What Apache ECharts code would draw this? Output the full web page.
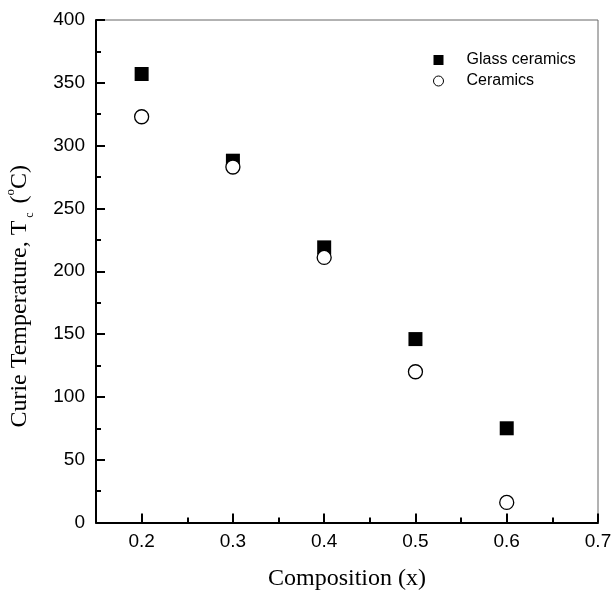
<!DOCTYPE html>
<html>
<head>
<meta charset="utf-8">
<script src="https://cdn.jsdelivr.net/npm/echarts@6/dist/echarts.min.js"></script>
<style>html,body{margin:0;padding:0;background:#fff;}#c{width:613px;height:591px;}</style>
</head>
<body>
<div id="c"></div>
<script>
const composition = [0.2, 0.3, 0.4, 0.5, 0.6];
const glassCeramics = [357, 288, 219, 146, 75];
const ceramics = [323, 283, 211, 120, 16];
const seriesNames = ['Glass ceramics', 'Ceramics'];
const xMajorTicks = [0.2, 0.3, 0.4, 0.5, 0.6, 0.7];
const xMinorTicks = [0.25, 0.35, 0.45, 0.55, 0.65];

const chart = echarts.init(document.getElementById('c'), null, {renderer: 'canvas'});
const sans = 'Liberation Sans, Arial, sans-serif';
const serif = 'Liberation Serif, Times New Roman, serif';

chart.setOption({
  animation: false,
  backgroundColor: '#fff',
  grid: {left: 96, right: 15, top: 20, bottom: 68.5, show: true, borderColor: '#666', borderWidth: 1,
         outerBoundsMode: 'none', containLabel: false},
  legend: {
    orient: 'vertical', left: 428, top: 47, itemWidth: 10, itemHeight: 10, itemGap: 5,
    textStyle: {fontFamily: sans, fontSize: 16, color: '#000', padding: [0, 0, 0, 18]},
    data: [
      {name: seriesNames[0], icon: 'rect', itemStyle: {color: '#000', opacity: 1}},
      {name: seriesNames[1], icon: 'circle', itemStyle: {color: '#fff', borderColor: '#000', borderWidth: 1, opacity: 1}}
    ]
  },
  xAxis: [{
    type: 'value', min: 0.15, max: 0.7,
    name: 'Composition (x)', nameLocation: 'middle', nameGap: 44,
    nameTextStyle: {fontFamily: serif, fontSize: 24, color: '#000', lineHeight: 24},
    axisLine: {show: true, lineStyle: {color: '#000', width: 2}},
    axisTick: {show: true, inside: true, length: 9, customValues: xMajorTicks, lineStyle: {color: '#000', width: 2}},
    splitLine: {show: false},
    axisLabel: {
      fontFamily: sans, fontSize: 19, color: '#000', margin: 10, customValues: xMajorTicks,
      formatter: function (v) { return v.toFixed(1); }
    }
  }, {
    type: 'value', min: 0.15, max: 0.7, position: 'bottom', gridIndex: 0,
    axisLine: {show: false},
    axisTick: {show: true, inside: true, length: 5, customValues: xMinorTicks, lineStyle: {color: '#000', width: 2}},
    axisLabel: {show: false},
    splitLine: {show: false}
  }],
  yAxis: {
    type: 'value', min: 0, max: 400, interval: 50,
    name: 'Curie Temperature, T{sub|c} ({sup|o}C)', nameLocation: 'middle', nameGap: 60, nameRotate: 90,
    nameTextStyle: {
      fontFamily: serif, fontSize: 24, color: '#000', lineHeight: 32, padding: [0, 50, 0, 0],
      rich: {
        sub: {fontFamily: serif, fontSize: 12, verticalAlign: 'bottom', lineHeight: 32, padding: [0, 3, 0, 3]},
        sup: {fontFamily: serif, fontSize: 13, verticalAlign: 'top', lineHeight: 32}
      }
    },
    axisLine: {show: true, lineStyle: {color: '#000', width: 2}},
    axisTick: {show: true, inside: true, length: 9, lineStyle: {color: '#000', width: 2}},
    minorTick: {show: true, splitNumber: 2, length: 5, lineStyle: {color: '#000', width: 2}},
    splitLine: {show: false},
    axisLabel: {fontFamily: sans, fontSize: 19, color: '#000', margin: 11}
  },
  series: [
    {
      name: seriesNames[0], type: 'scatter', symbol: 'rect', symbolSize: 14,
      itemStyle: {color: '#000', opacity: 1},
      data: composition.map((x, i) => [x, glassCeramics[i]]), z: 2
    },
    {
      name: seriesNames[1], type: 'scatter', symbol: 'circle', symbolSize: 14,
      itemStyle: {color: '#fff', borderColor: '#000', borderWidth: 1.3, opacity: 1},
      data: composition.map((x, i) => [x, ceramics[i]]), z: 3
    }
  ]
});
</script>
</body>
</html>
